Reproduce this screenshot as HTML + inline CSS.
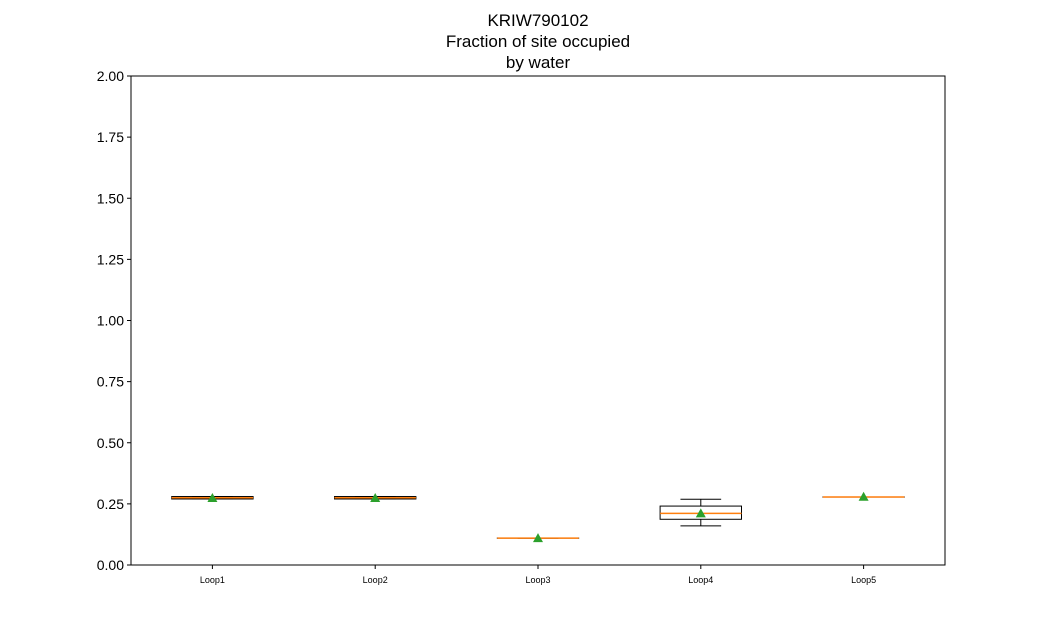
<!DOCTYPE html>
<html><head><meta charset="utf-8"><style>
body{margin:0;background:#fff;}
svg text{font-family:"Liberation Sans","DejaVu Sans",sans-serif;}
</style></head><body>
<svg id="chart" width="1050" height="635">
<rect width="1050" height="635" fill="#fff"/>
<text x="538" y="26" font-size="17" text-anchor="middle">KRIW790102</text>
<text x="538" y="47" font-size="17" text-anchor="middle">Fraction of site occupied</text>
<text x="538" y="68" font-size="17" text-anchor="middle">by water</text>
<g id="marks"></g>
<rect x="131" y="76" width="814" height="489" fill="none" stroke="#000" stroke-width="1"/>
<g id="axes"></g>
</svg>
<script>
const categories=["Loop1","Loop2","Loop3","Loop4","Loop5"];
const whiskLo=[0.27,0.27,0.11,0.16,0.278];
const q1=[0.27,0.27,0.11,0.187,0.278];
const medians=[0.275,0.275,0.11,0.211,0.278];
const q3=[0.28,0.28,0.11,0.241,0.278];
const whiskHi=[0.28,0.28,0.11,0.269,0.278];
const means=[0.274,0.274,0.11,0.211,0.279];
const yTicks=[0,0.25,0.5,0.75,1.0,1.25,1.5,1.75,2.0];
const L=131,R=945,T=76,B=565,YMAX=2;
const xS=i=>L+(i+0.5)*(R-L)/categories.length;
const yS=v=>B-v/YMAX*(B-T);
const NS="http://www.w3.org/2000/svg";
function mk(tag,attrs,parent){const e=document.createElementNS(NS,tag);for(const k in attrs)e.setAttribute(k,attrs[k]);parent.appendChild(e);return e;}
const marks=document.getElementById('marks'),axes=document.getElementById('axes');
const bw=(R-L)/categories.length*0.5;
categories.forEach((c,i)=>{
 const x=xS(i);
 const g=mk('g',{},marks);
 
 
 mk('line',{x1:x,x2:x,y1:yS(whiskHi[i]),y2:yS(q3[i]),stroke:'#000'},g);
 mk('line',{x1:x,x2:x,y1:yS(q1[i]),y2:yS(whiskLo[i]),stroke:'#000'},g);
 mk('line',{x1:x-bw/4,x2:x+bw/4,y1:yS(whiskHi[i]),y2:yS(whiskHi[i]),stroke:'#000'},g);
 mk('line',{x1:x-bw/4,x2:x+bw/4,y1:yS(whiskLo[i]),y2:yS(whiskLo[i]),stroke:'#000'},g);
 const h=Math.max(yS(q1[i])-yS(q3[i]),0.01);
 mk('rect',{x:x-bw/2,y:yS(q3[i]),width:bw,height:h,fill:'none',stroke:'#000'},g);
 mk('line',{x1:x-bw/2,x2:x+bw/2,y1:yS(medians[i]),y2:yS(medians[i]),stroke:'#ff7f0e','stroke-width':1.5},g);
 const my=yS(means[i]);
 const m=mk('polygon',{points:`${x},${my-5} ${x-5},${my+4} ${x+5},${my+4}`,fill:'#2ca02c'},g);
 
 
 mk('line',{x1:x,x2:x,y1:B,y2:B+4,stroke:'#000'},axes);
 const t=mk('text',{x:x,y:B+18,'font-size':9,'text-anchor':'middle'},axes);
 t.textContent=c;
 
 
});
yTicks.forEach(v=>{
 const y=yS(v);
 mk('line',{x1:L-4,x2:L,y1:y,y2:y,stroke:'#000'},axes);
 const t=mk('text',{x:L-7,y:y+5,'font-size':14,'text-anchor':'end'},axes);
 t.textContent=v.toFixed(2);
 
 
});
</script>
</body></html>
